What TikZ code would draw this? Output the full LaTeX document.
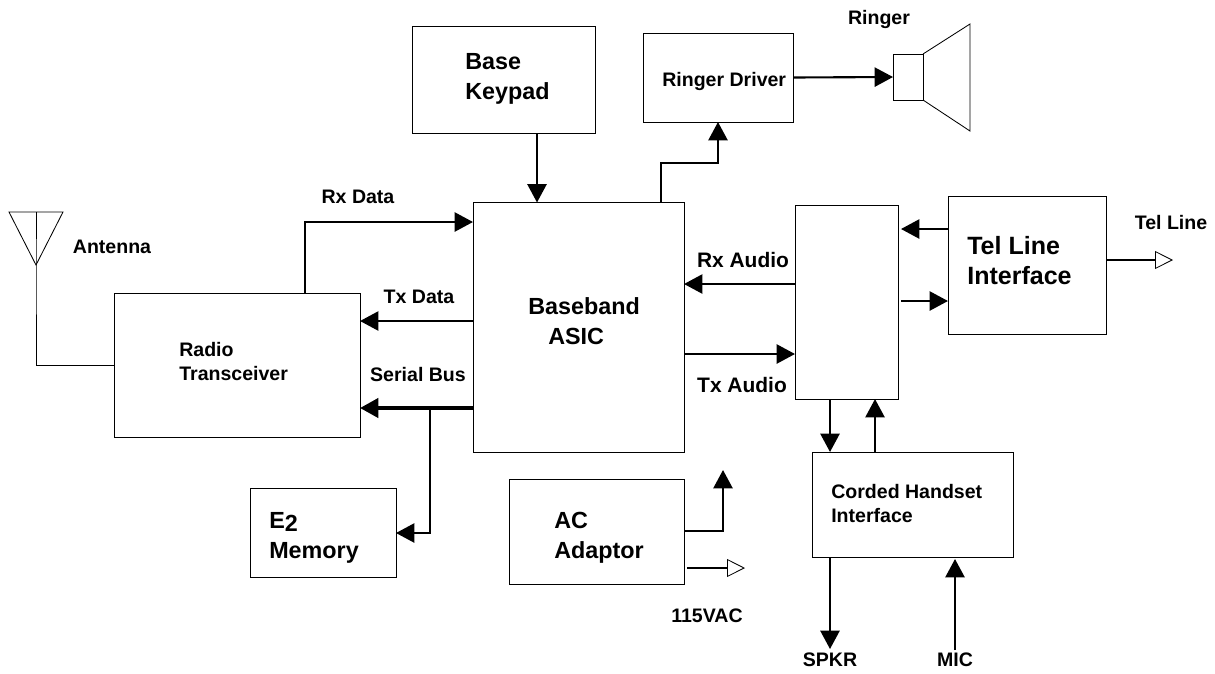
\documentclass[tikz,border=0pt]{standalone}
\usepackage{fontspec}
\setmainfont{Liberation Sans}
\usetikzlibrary{arrows.meta,positioning}
\begin{document}
\begin{tikzpicture}[x=0.025cm,y=-0.025cm,
 b/.style={draw,line width=0.6pt,inner sep=0pt,outer sep=0pt},
 txs/.style={font=\fontsize{13.9}{17.4}\selectfont\bfseries,align=left,inner sep=0pt},
 txm/.style={font=\fontsize{16.6}{21.3}\selectfont\bfseries,align=left,inner sep=0pt},
 txl/.style={font=\fontsize{17.8}{20.8}\selectfont\bfseries,align=left,inner sep=0pt},
 txa/.style={font=\fontsize{14.9}{18}\selectfont\bfseries,inner sep=0pt},
 arr/.style={-{Triangle[length=4.6mm,width=4.8mm]},line width=1.5pt},
 arrbus/.style={-{Triangle[length=4.6mm,width=4.8mm]},line width=2.8pt},
 arropen/.style={-{Triangle[open,length=4.5mm,width=4.5mm,line width=0.6pt]},line width=1.5pt},
 thin line/.style={line width=0.6pt}]
\useasboundingbox (0,0) rectangle (1215,673);
% boxes
\node[b,minimum width=4.575cm,minimum height=2.675cm] (keypad) at (503.5,79.5) {};
\node[b,minimum width=3.75cm,minimum height=2.225cm] (driver) at (718,77.5) {};
\node[b,minimum width=0.75cm,minimum height=1.15cm] (spk) at (908,77) {};
\node[b,minimum width=5.275cm,minimum height=6.25cm] (asic) at (578.5,327.5) {};
\node[b,minimum width=6.15cm,minimum height=3.6cm] (radio) at (237,365) {};
\node[b,minimum width=3.65cm,minimum height=2.225cm] (mem) at (323,532.5) {};
\node[b,minimum width=4.375cm,minimum height=2.625cm] (adaptor) at (596.5,531.5) {};
\node[b,minimum width=2.575cm,minimum height=4.85cm] (codec) at (846.5,302) {};
\node[b,minimum width=3.95cm,minimum height=3.45cm] (tel) at (1027,265) {};
\node[b,minimum width=5.025cm,minimum height=2.625cm] (handset) at (912.5,504.5) {};
% box texts
\node[txm,anchor=west] (keypadtxt) at (465,79) {Base\\Keypad};
\node[txs,anchor=west] (drivertxt) at (662,81) {Ringer Driver};
\node[txm,anchor=west] (asictxt) at (528,321) {Baseband\\\hspace*{0.5cm}ASIC};
\node[txs,anchor=west] (radiotxt) at (179,361.5) {Radio\\Transceiver};
\node[txm,anchor=west] (memtxt) at (269,537.5) {E\raisebox{-2.5pt}{2}\\Memory};
\node[txm,anchor=west] (adaptortxt) at (554,537.5) {AC\\Adaptor};
\node[txl,anchor=west] (teltxt) at (967,260.5) {Tel Line\\Interface};
\node[txs,anchor=west] (handsettxt) at (831,503.5) {Corded Handset\\Interface};
% signal names
\node[txs] (ringerlbl) at (879,19) {Ringer};
\node[txs] (antlbl) at (112,247) {Antenna};
\node[txs] (rxdata) at (358,197) {Rx Data};
\node[txs] (txdata) at (419,297) {Tx Data};
\node[txs] (serial) at (418,375) {Serial Bus};
\node[txa] (rxaudio) at (743,260) {Rx Audio};
\node[txa] (txaudio) at (742,385) {Tx Audio};
\node[txs] (telline) at (1171,223) {Tel Line};
\node[txs] (vac) at (707,616) {115VAC};
\node[txs] (spkr) at (830,660) {SPKR};
\node[txs] (mic) at (955,660) {MIC};
% ringer horn and antenna
\coordinate (hornT) at (970,24);
\coordinate (hornB) at (970,131);
\coordinate (antL) at (9,212);
\coordinate (antR) at (63,212);
\coordinate (antTip) at (36,265);
\draw[thin line] (spk.north east)--(hornT)--(hornB)--(spk.south east);
\draw[thin line] (antL)--(antR)--(antTip)--cycle;
\draw[thin line] (antTip |- antL)--(antTip)--(antTip |- radio.west)--(radio.west);
% connector turns and free ends
\coordinate (rxturn) at (305,222);
\coordinate (ringturn) at (661,163);
\coordinate (txrow) at (0,321);
\coordinate (busrow) at (0,408);
\coordinate (memturn) at (430,533);
\coordinate (rxrow) at (0,284);
\coordinate (txarow) at (0,354);
\coordinate (dcturn) at (723,531);
\coordinate (dcend) at (723,470);
\coordinate (vacA) at (687,568);
\coordinate (vacB) at (745,568);
\coordinate (telinA) at (901,229);
\coordinate (teloutA) at (901,301);
\coordinate (lineend) at (1173,260);
\coordinate (dnx) at (830,0);
\coordinate (upx) at (875,0);
\coordinate (spkrend) at (830,649);
\coordinate (micA) at (955,650);
\coordinate (micB) at (955,559);
\coordinate (keyx) at (537,0);
% connectors
\draw[arr] (keyx |- keypad.south)--(keyx |- asic.north);
\draw[arr] (rxturn |- radio.north)--(rxturn)--(rxturn -| asic.west);
\draw[arr] (txrow -| asic.west)--(txrow -| radio.east);
\draw[arrbus] (busrow -| asic.west)--(busrow -| radio.east);
\draw[arr] (memturn |- busrow)--(memturn)--(memturn -| mem.east);
\draw[arr] (ringturn |- asic.north)--(ringturn)--(ringturn -| driver.south)--(driver.south);
\draw[arr] (driver.east)--(spk.west);
\draw[arr] (rxrow -| codec.west)--(rxrow -| asic.east);
\draw[arr] (txarow -| asic.east)--(txarow -| codec.west);
\draw[arr] (telinA -| tel.west)--(telinA);
\draw[arr] (teloutA)--(teloutA -| tel.west);
\draw[arropen] (lineend -| tel.east)--(lineend);
\draw[arr] (dnx |- codec.south)--(dnx |- handset.north);
\draw[arr] (upx |- handset.north)--(upx |- codec.south);
\draw[arr] (dnx |- handset.south)--(spkrend);
\draw[arr] (micA)--(micB);
\draw[arr] (dcturn -| adaptor.east)--(dcturn)--(dcend);
\draw[arropen] (vacA)--(vacB);
\end{tikzpicture}
\end{document}
